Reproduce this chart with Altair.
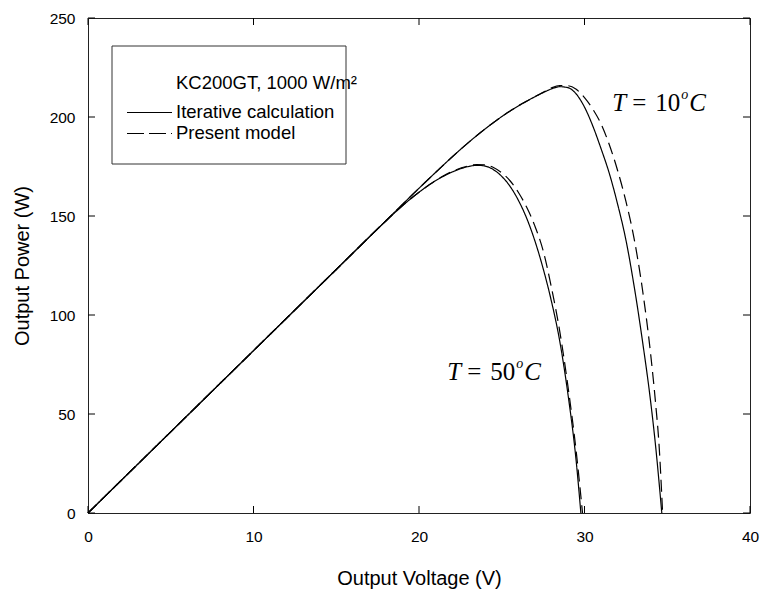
import altair as alt
import pandas as pd

# KC200GT module, 1000 W/m^2: output power vs. output voltage
# T = 10 C, iterative calculation
v_10_iter = [0, 2, 5, 10, 15, 18, 20, 21, 22, 23, 24, 25, 26, 27, 27.5, 28, 28.5, 29, 29.5,
             30, 30.5, 31, 31.5, 32, 32.5, 33, 33.5, 34, 34.3, 34.5, 34.67]
p_10_iter = [0, 16.4, 41, 82, 123, 147.6, 164, 172, 179.8, 187.2, 194, 200.2, 205.6, 210.2,
             212.3, 214.2, 215.3, 214.8, 211.6, 205, 195.5, 184, 171.5, 156, 138, 114.5, 87, 56,
             33.5, 16, 0]
# T = 10 C, present model
v_10_model = [0, 2, 5, 10, 15, 18, 20, 21, 22, 23, 24, 25, 26, 27, 27.5, 28, 28.5, 29, 29.5,
              30, 30.5, 31, 31.5, 32, 32.5, 33, 33.5, 34, 34.3, 34.5, 34.72]
p_10_model = [0, 16.4, 41, 82, 123, 147.6, 164, 172, 179.8, 187.2, 194, 200.2, 205.6, 210.2,
              212.5, 214.7, 215.9, 215.8, 214, 209.8, 204, 196.5, 186, 173, 157.5, 138.5, 113,
              80, 55, 35, 0]
# T = 50 C, iterative calculation
v_50_iter = [0, 2, 5, 10, 15, 18, 19, 20, 21, 22, 23, 23.5, 24, 24.5, 25, 25.5, 26, 26.5,
             27, 27.5, 28, 28.5, 29, 29.5, 29.78]
p_50_iter = [0, 16.4, 41, 82, 123, 147.5, 155.2, 162, 167.8, 172.2, 175, 175.6, 175.2, 173.4,
             170, 165, 158, 149, 137.5, 123.5, 107, 87, 60, 26, 0]
# T = 50 C, present model
v_50_model = [0, 2, 5, 10, 15, 18, 19, 20, 21, 22, 23, 23.5, 24, 24.5, 25, 25.5, 26, 26.5,
              27, 27.5, 28, 28.5, 29, 29.5, 29.88]
p_50_model = [0, 16.4, 41, 82, 123, 147.5, 155.2, 162, 167.9, 172.5, 175.3, 176, 175.8, 174.5,
              171.8, 167.8, 162, 154.5, 145, 132.5, 114, 92, 64, 31, 0]

models = ["Iterative calculation", "Present model"]
legend_title = "KC200GT, 1000 W/m²"
x_ticks = [0, 10, 20, 30, 40]
y_ticks = [0, 50, 100, 150, 200, 250]

# temperature labels: anchor (V, P) and the temperature printed
label_v = [31.67, 21.7]
label_p = [202.9, 67.4]
label_num = ["10", "50"]

rows = []
for temp, model, vs, ps in [("10", models[0], v_10_iter, p_10_iter),
                            ("10", models[1], v_10_model, p_10_model),
                            ("50", models[0], v_50_iter, p_50_iter),
                            ("50", models[1], v_50_model, p_50_model)]:
    for v, p in zip(vs, ps):
        rows.append({"V": v, "P": p, "model": model, "series": temp + model})
df = pd.DataFrame(rows)

W, H = 662, 495
SANS = "Liberation Sans"
SERIF = "Liberation Serif"

x_scale = alt.Scale(domain=[0, 40], nice=False, zero=False)
y_scale = alt.Scale(domain=[0, 250], nice=False, zero=False)

x_axis = alt.Axis(values=x_ticks, ticks=False, domain=False, grid=False, labelFlush=False,
                  labelFont=SANS, labelFontSize=15.5, labelColor="black", labelPadding=16,
                  title="Output Voltage (V)", titleFont=SANS, titleFontSize=20,
                  titleFontWeight="normal", titleColor="black",
                  titleY=65, titleBaseline="middle")
y_axis = alt.Axis(values=y_ticks, ticks=False, domain=False, grid=False, labelFlush=False,
                  labelFont=SANS, labelFontSize=15.5, labelColor="black", labelPadding=13,
                  title="Output Power (W)", titleFont=SANS, titleFontSize=20,
                  titleFontWeight="normal", titleColor="black",
                  titleX=-66, titleBaseline="middle")


def X(field="V:Q"):
    return alt.X(field, scale=x_scale, axis=x_axis)


def Y(field="P:Q"):
    return alt.Y(field, scale=y_scale, axis=y_axis)


curves = alt.Chart(df).mark_line(color="black", strokeWidth=1.2, interpolate="monotone").encode(
    x=X(), y=Y(),
    strokeDash=alt.StrokeDash("model:N", scale=alt.Scale(domain=models, range=[[1, 0], [12, 6]]),
                              legend=None),
    detail="series:N",
)

# inward ticks on all four sides of the frame
xt = pd.DataFrame({"V": x_ticks})
yt = pd.DataFrame({"P": y_ticks})
tick_len = 7
ticks = [
    alt.Chart(xt).mark_rule(color="black").encode(x=X(), y=alt.value(H), y2=alt.value(H - tick_len)),
    alt.Chart(xt).mark_rule(color="black").encode(x=X(), y=alt.value(0), y2=alt.value(tick_len)),
    alt.Chart(yt).mark_rule(color="black").encode(y=Y(), x=alt.value(0), x2=alt.value(tick_len)),
    alt.Chart(yt).mark_rule(color="black").encode(y=Y(), x=alt.value(W), x2=alt.value(W - tick_len)),
]

# boxed legend
one = pd.DataFrame({"k": [0]})
leg_font = 18.5
legend_layers = [
    alt.Chart(one).mark_rect(fill="white", stroke="#333333", strokeWidth=1).encode(
        x=alt.value(24), x2=alt.value(258), y=alt.value(28), y2=alt.value(146)),
    alt.Chart(one).mark_text(align="left", baseline="middle", font=SANS, fontSize=leg_font,
                             color="black").encode(
        x=alt.value(88), y=alt.value(65), text=alt.value(legend_title)),
]
for row_y, model, dash in [(94, models[0], [1, 0]), (115, models[1], [17, 5])]:
    legend_layers.append(
        alt.Chart(one).mark_rule(color="black", strokeWidth=1.2, strokeDash=dash).encode(
            x=alt.value(39), x2=alt.value(84), y=alt.value(row_y + 0.5)))
    legend_layers.append(
        alt.Chart(one).mark_text(align="left", baseline="middle", font=SANS, fontSize=leg_font,
                                 color="black").encode(
            x=alt.value(88), y=alt.value(row_y), text=alt.value(model)))

# temperature labels, "T = 10°C" style with italic symbols
lab_df = pd.DataFrame({"V": label_v, "P": label_p, "num": label_num})


def label_piece(text_enc, dx, italic, size=25, dy=0):
    return alt.Chart(lab_df).mark_text(
        align="left", baseline="alphabetic", font=SERIF, fontSize=size,
        fontStyle="italic" if italic else "normal", color="black", dx=dx, dy=dy,
    ).encode(x=X(), y=Y(), text=text_enc)


labels = [
    label_piece(alt.value("T"), 0, True),
    label_piece(alt.value("="), 20, False),
    label_piece(alt.Text("num:N"), 43, False),
    label_piece(alt.value("o"), 69, True, size=14, dy=-12),
    label_piece(alt.value("C"), 77, True),
]

chart = alt.layer(
    curves, *ticks, *legend_layers, *labels
).properties(
    width=W, height=H,
    autosize=alt.AutoSizeParams(type="none"),
    padding={"left": 88, "top": 18, "right": 11, "bottom": 79},
    background="white",
).configure_view(stroke="#222222", strokeWidth=1)

chart.save("out.html", embed_options={"renderer": "svg", "actions": False})
